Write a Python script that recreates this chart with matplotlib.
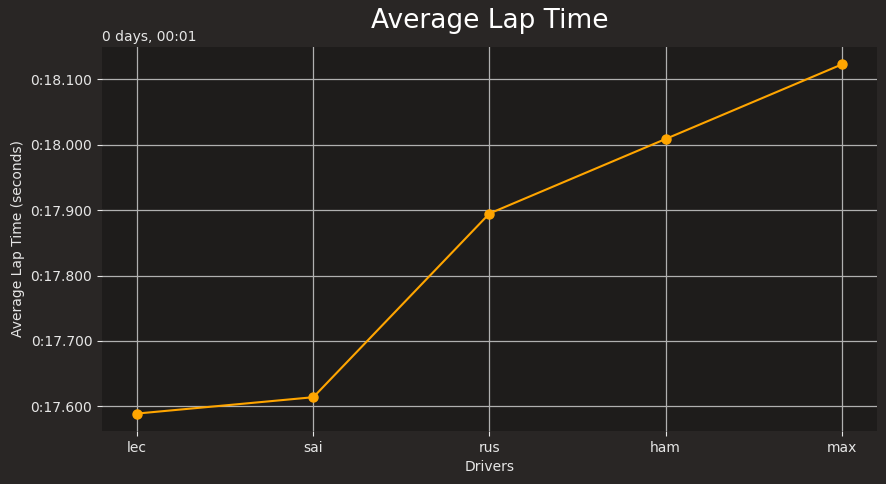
import matplotlib
matplotlib.use("Agg")
import matplotlib.pyplot as plt
from matplotlib.ticker import FuncFormatter, MultipleLocator

# average lap time per driver, in seconds
drivers = ["lec", "sai", "rus", "ham", "max"]
lap_times = [77.589, 77.614, 77.895, 78.009, 78.123]

fig_bg = "#292625"
ax_bg = "#1e1c1b"
txt = "#e6e6e6"

fig, ax = plt.subplots(figsize=(8.86, 4.84), dpi=100)
fig.patch.set_facecolor(fig_bg)
ax.set_facecolor(ax_bg)

ax.plot(drivers, lap_times, color="orange", marker="o", markersize=6.5, linewidth=1.5)

# y axis shows times as m:ss.sss with a one-minute offset
ax.yaxis.set_major_locator(MultipleLocator(0.1))
ax.yaxis.set_major_formatter(FuncFormatter(lambda v, p: "0:%06.3f" % (v - 60)))
ax.text(0, 1.008, "0 days, 00:01", transform=ax.transAxes, color=txt,
        fontsize=10, ha="left", va="bottom")

ax.grid(True, color="#b0b0b0", linewidth=0.9)
ax.set_axisbelow(True)
for s in ax.spines.values():
    s.set_visible(False)
ax.tick_params(colors=txt, labelsize=10)

ax.set_title("Average Lap Time", color="white", fontsize=19, pad=14)
ax.set_xlabel("Drivers", color=txt, fontsize=10)
ax.set_ylabel("Average Lap Time (seconds)", color=txt, fontsize=10)

fig.subplots_adjust(left=0.1151, right=0.9898, top=0.9029, bottom=0.1095)
fig.savefig("out.png", facecolor=fig_bg)
